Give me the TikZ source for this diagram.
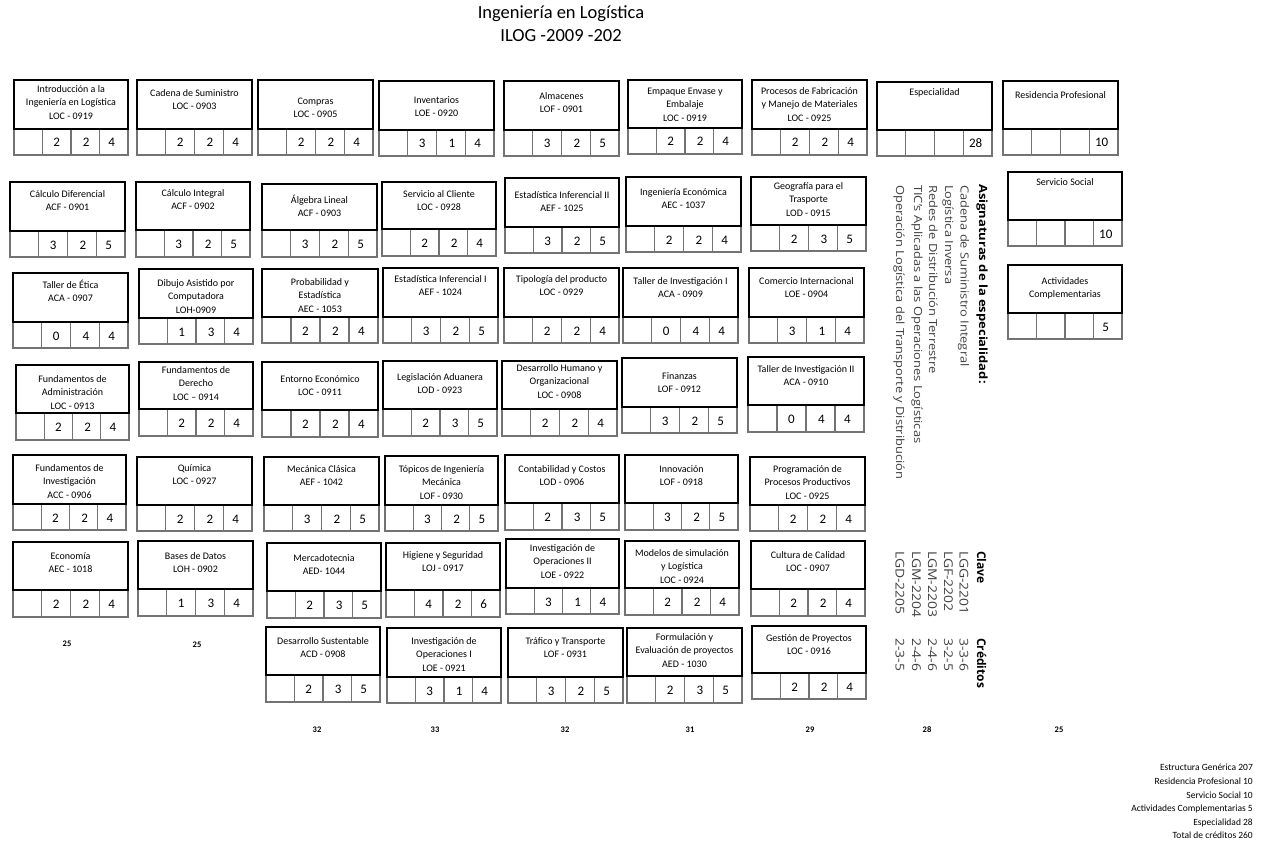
\documentclass[tikz,border=0pt]{standalone}
\usepackage{fontspec}
\setmainfont{Carlito}
\newfontfamily\osans[FakeStretch=1.15]{Open Sans}
\newfontfamily\osansh{Open Sans}
\tikzset{
 boxline/.style={draw=black, line width=1.3pt},
 cellline/.style={draw=black!55, line width=1.3pt},
 ttl/.style={anchor=north, align=center, inner sep=0pt, font=\fontsize{10}{13.3}\selectfont},
 dig/.style={anchor=base, inner sep=0pt, font=\fontsize{13}{15}\selectfont},
 tot/.style={inner sep=0pt, font=\bfseries\fontsize{8.5}{10}\selectfont},
 leg/.style={anchor=base east, inner sep=0pt, font=\fontsize{9.5}{11}\selectfont},
 spec/.style={rotate=-90, anchor=base west, inner sep=0pt, font=\osans\fontsize{11.2}{13}\selectfont, text=black!75},
 spech/.style={rotate=-90, anchor=base west, inner sep=0pt, font=\osans\bfseries\fontsize{11.3}{13}\selectfont, text=black},
 clv/.style={rotate=-90, anchor=base west, inner sep=0pt, font=\osans\fontsize{12.1}{14}\selectfont, text=black!75},
 clvh/.style={rotate=-90, anchor=base west, inner sep=0pt, font=\osansh\bfseries\fontsize{12}{14}\selectfont, text=black},
}
\def\crsparse#1,#2,#3,#4,#5\relax{\def\cxa{#1}\def\cya{#2}\def\cxb{#3}\def\cyd{#4}\def\cyc{#5}}
\newcommand{\crs}[7]{%
 \crsparse#2\relax
 \pgfmathsetmacro\ccw{(\cxb-\cxa)/4}%
 \pgfmathsetmacro\cym{(\cyd+\cyc)/2+5}%
 \draw[cellline] (\cxa,\cyd) rectangle (\cxb,\cyc);
 \draw[cellline] (\cxa+\ccw,\cyd) -- (\cxa+\ccw,\cyc) (\cxa+2*\ccw,\cyd) -- (\cxa+2*\ccw,\cyc) (\cxa+3*\ccw,\cyd) -- (\cxa+3*\ccw,\cyc);
 \draw[boxline] (\cxa,\cya) rectangle (\cxb,\cyd);
 \node[ttl] (#1) at ({(\cxa+\cxb)/2},{\cya+#3-5.7}) {\rule{0pt}{9pt}#4};
 \node[dig] (#1-a) at (\cxa+1.5*\ccw,\cym) {#5};
 \node[dig] (#1-b) at (\cxa+2.5*\ccw+1,\cym) {#6};
 \node[dig] (#1-c) at (\cxa+3.5*\ccw-2,\cym) {#7};
}
\begin{document}
\begin{tikzpicture}[x=1pt,y=-1pt]
\fill[white] (0,0) rectangle (1273,861);
\node[font=\fontsize{18.5}{22}\selectfont, inner sep=0pt] (t1) at (561,14) {Ingeniería en Logística};
\node[font=\fontsize{18.5}{22}\selectfont, inner sep=0pt] (t2) at (561,36) {ILOG -2009 -202};
% row 1
\crs{intro}{14,80,128,129,155}{9}{Introducción a la\\Ingeniería en Logística\\LOC - 0919}{2}{2}{4}
\crs{cadena}{137,80,252,129,155}{13}{Cadena de Suministro\\LOC - 0903}{2}{2}{4}
\crs{compras}{258,80,373,129,155}{21}{Compras\\LOC - 0905}{2}{2}{4}
\crs{invent}{379,81,494,130,156}{19}{Inventarios\\LOE - 0920}{3}{1}{4}
\crs{almac}{504,81,619,130,156}{15}{Almacenes\\LOF - 0901}{3}{2}{5}
\crs{empaque}{628,80,742,128,154}{11}{Empaque Envase y\\Embalaje\\LOC - 0919}{2}{2}{4}
\crs{procesos}{752,80,867,129,155}{11}{Procesos de Fabricación\\y Manejo de Materiales\\LOC - 0925}{2}{2}{4}
\crs{espec}{877,82,992,130,156}{10}{Especialidad}{}{}{28}
\crs{resid}{1003,81,1118,129,155}{14}{Residencia Profesional}{}{}{10}
% row 2
\crs{calcdif}{10,182,125,231,257}{12}{Cálculo Diferencial\\ACF - 0901}{3}{2}{5}
\crs{calcint}{136,182,250,230,257}{11}{Cálculo Integral\\ACF - 0902}{3}{2}{5}
\crs{algebra}{262,184,377,230,257}{16}{Álgebra Lineal\\ACF - 0903}{3}{2}{5}
\crs{servcli}{382,182,496,229,256}{12}{Servicio al Cliente\\LOC - 0928}{2}{2}{4}
\crs{estinfb}{505,178,619,227,253}{17}{Estadística Inferencial II\\AEF - 1025}{3}{2}{5}
\crs{ingecon}{626,177,741,226,252}{15}{Ingeniería Económica\\AEC - 1037}{2}{2}{4}
\crs{geog}{751,177,866,225,251}{9}{Geografía para el\\Trasporte\\LOD - 0915}{2}{3}{5}
\crs{servsoc}{1008,172,1122,220,246}{10}{Servicio Social}{}{}{10}
% row 3
\crs{etica}{13,273,128,322,348}{12}{Taller de Ética\\ACA - 0907}{0}{4}{4}
\crs{dibujo}{139,269,253,318,344}{14}{Dibujo Asistido por\\Computadora\\LOH-0909}{1}{3}{4}
\crs{prob}{262,269,378,317,343}{13}{Probabilidad y\\Estadística\\AEC - 1053}{2}{2}{4}
\crs{estinfa}{383,268,498,317,343}{11}{Estadística Inferencial I\\AEF - 1024}{3}{2}{5}
\crs{tipol}{504,268,619,317,343}{11}{Tipología del producto\\LOC - 0929}{2}{2}{4}
\crs{tallinva}{623,268,738,317,343}{13}{Taller de Investigación I\\ACA - 0909}{0}{4}{4}
\crs{comercio}{749,268,864,317,343}{13}{Comercio Internacional\\LOE - 0904}{3}{1}{4}
\crs{activ}{1008,265,1122,313,339}{16}{Actividades\\Complementarias}{}{}{5}
% row 4
\crs{fundadm}{16,365,129,413,440}{14}{Fundamentos de\\Administración\\LOC - 0913}{2}{2}{4}
\crs{fundder}{139,362,253,409,436}{8}{Fundamentos de\\Derecho\\LOC – 0914}{2}{2}{4}
\crs{entorno}{262,362,378,410,437}{17}{Entorno Económico\\LOC - 0911}{2}{2}{4}
\crs{legis}{383,361,497,409,436}{16}{Legislación Aduanera\\LOD - 0923}{2}{3}{5}
\crs{deshum}{502,361,617,409,436}{7}{Desarrollo Humano y\\Organizacional\\LOC - 0908}{2}{2}{4}
\crs{finanzas}{622,358,737,407,433}{18}{Finanzas\\LOF - 0912}{3}{2}{5}
\crs{tallinvb}{748,357,864,405,432}{12}{Taller de Investigación II\\ACA - 0910}{0}{4}{4}
% row 5
\crs{fundinv}{13,455,126,504,530}{13}{Fundamentos de\\Investigación\\ACC - 0906}{2}{2}{4}
\crs{quimica}{137,457,252,505,531}{11}{Química\\LOC - 0927}{2}{2}{4}
\crs{mecanica}{264,457,379,505,531}{12}{Mecánica Clásica\\AEF - 1042}{3}{2}{5}
\crs{topicos}{385,456,498,505,531}{13}{Tópicos de Ingeniería\\Mecánica\\LOF - 0930}{3}{2}{5}
\crs{contab}{505,455,619,503,530}{14}{Contabilidad y Costos\\LOD - 0906}{2}{3}{5}
\crs{innov}{625,455,738,503,530}{14}{Innovación\\LOF - 0918}{3}{2}{5}
\crs{progr}{750,457,865,505,531}{12}{Programación de\\Procesos Productivos\\LOC - 0925}{2}{2}{4}
% row 6
\crs{economia}{13,542,128,590,617}{14}{Economía\\AEC - 1018}{2}{2}{4}
\crs{bases}{138,541,253,589,616}{15}{Bases de Datos\\LOH - 0902}{1}{3}{4}
\crs{mercad}{267,543,381,591,618}{15}{Mercadotecnia\\AED- 1044}{2}{3}{5}
\crs{higiene}{386,543,500,590,617}{12}{Higiene y Seguridad\\LOJ - 0917}{4}{2}{6}
\crs{invopb}{506,539,619,588,614}{9}{Investigación de\\Operaciones II\\LOE - 0922}{3}{1}{4}
\crs{modelos}{625,541,739,588,615}{12}{Modelos de simulación\\y Logística\\LOC - 0924}{2}{2}{4}
\crs{cultura}{751,541,865,589,616}{14}{Cultura de Calidad\\LOC - 0907}{2}{2}{4}
% row 7
\crs{dessust}{266,627,380,675,702}{14}{Desarrollo Sustentable\\ACD - 0908}{2}{3}{5}
\crs{invopa}{387,628,501,677,703}{13}{Investigación de\\Operaciones I\\LOE - 0921}{3}{1}{4}
\crs{trafico}{508,628,623,677,703}{13}{Tráfico y Transporte\\LOF - 0931}{3}{2}{5}
\crs{formul}{627,628,742,676,703}{9}{Formulación y\\Evaluación de proyectos\\AED - 1030}{2}{3}{5}
\crs{gestion}{752,626,866,673,699}{12}{Gestión de Proyectos\\LOC - 0916}{2}{2}{4}
% column totals
\node[tot] (s1) at (67,644) {25};
\node[tot] (s2) at (197,645) {25};
\node[tot] (s3) at (317,730) {32};
\node[tot] (s4) at (435,730) {33};
\node[tot] (s5) at (565,730) {32};
\node[tot] (s6) at (690,730) {31};
\node[tot] (s7) at (810,730) {29};
\node[tot] (s8) at (927,730) {28};
\node[tot] (s9) at (1059,730) {25};
% specialty list
\node[spech] (sp0) at (979,184) {Asignaturas de la especialidad:};
\node[spec] (sp1) at (960.5,185) {Cadena de Suministro Integral};
\node[spec] (sp2) at (945,185) {Logística Inversa};
\node[spec] (sp3) at (929,185) {Redes de Distribución Terrestre};
\node[spec] (sp4) at (914,185) {TIC’s Aplicadas a las Operaciones Logísticas};
\node[spec] (sp5) at (896,185) {Operación Logística del Transporte y Distribución};
% clave
\node[clvh] (cl0) at (977,551) {Clave};
\node[clv] (cl1) at (959.5,551) {LGG-2201};
\node[clv] (cl2) at (944,551) {LGF-2202};
\node[clv] (cl3) at (928,551) {LGM-2203};
\node[clv] (cl4) at (912,551) {LGM-2204};
\node[clv] (cl5) at (895.5,551) {LGD-2205};
\node[clvh] (cr0) at (977,638) {Créditos};
\node[clv] (cr1) at (959.5,638) {3-3-6};
\node[clv] (cr2) at (944,638) {3-2-5};
\node[clv] (cr3) at (928,638) {2-4-6};
\node[clv] (cr4) at (912,638) {2-4-6};
\node[clv] (cr5) at (895.5,638) {2-3-5};
% legend
\node[leg] (l1) at (1253,770) {Estructura Genérica 207};
\node[leg] (l2) at (1253,784) {Residencia Profesional 10};
\node[leg] (l3) at (1253,798) {Servicio Social 10};
\node[leg] (l4) at (1253,811) {Actividades Complementarias 5};
\node[leg] (l5) at (1253,825) {Especialidad 28};
\node[leg] (l6) at (1253,838) {Total de créditos 260};
\end{tikzpicture}
\end{document}
